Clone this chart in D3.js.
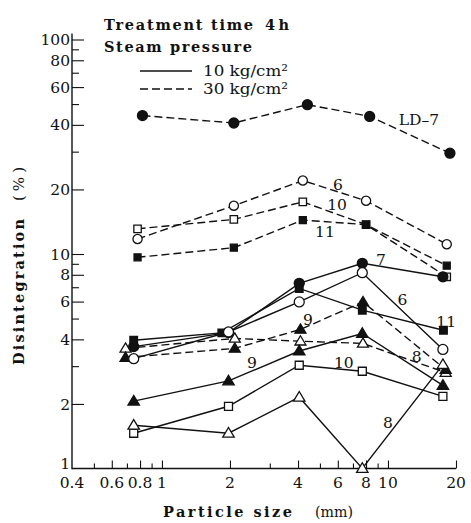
<!DOCTYPE html>
<html>
<head>
<meta charset="utf-8">
<script src="https://cdn.jsdelivr.net/npm/d3@7"></script>
<style>
  body { margin: 0; background: #fff; }
  svg text { font-family: "DejaVu Serif", "Liberation Serif", serif; fill: #111; }
</style>
</head>
<body>
<div id="chart"></div>
<script>
'use strict'

// particle size (mm) where each group of points sits
const sizes10 = [0.75, 1.97, 4.05, 7.7, 17.5]
const sizes10b = [0.75, 1.84, 4.05, 7.7, 17.6]
const sizes30 = [0.78, 2.08, 4.2, 8.0, 18.2]
const sizes30low = [0.69, 2.1, 4.1, 7.75, 18]
const sizesLD7 = [0.82, 2.08, 4.4, 8.3, 18.8]

// disintegration (%), steam 10 kg/cm2 (solid)
const s6 = [3.25, 4.33, 5.98, 8.18, 3.59]
const s7 = [3.7, 4.3, 7.3, 9.05, 7.83]
const s8 = [1.59, 1.46, 2.15, 1.0, 3.05]
const s9 = [2.06, 2.56, 3.53, 4.26, 2.44]
const s10 = [1.46, 1.95, 3.03, 2.84, 2.17]
const s11 = [3.96, 4.29, 6.91, 5.47, 4.41]

// disintegration (%), steam 30 kg/cm2 (dashed)
const dLD7 = [44.2, 40.8, 49.7, 43.8, 29.5]
const d6 = [11.75, 16.8, 22.0, 17.7, 11.1]
const d10 = [13.1, 14.5, 17.5, 13.7, 7.83]
const d11 = [9.65, 10.7, 14.4, 13.7, 8.82]
const d8 = [3.63, 4.04, 3.92, 3.83, 2.8]
const d9 = [3.29, 3.63, 4.45, 5.98, 2.89]

// ticks
const xTicks = [0.5, 0.6, 0.7, 0.8, 0.9, 1, 2, 3, 4, 5, 6, 7, 8, 9, 10, 20]
const xLabels = [0.4, 0.6, 0.8, 1, 2, 4, 6, 8, 10, 20]
const yTicks = [2, 3, 4, 5, 6, 7, 8, 9, 10, 20, 30, 40, 50, 60, 70, 80, 90, 100]
const yLabels = [1, 2, 4, 6, 8, 10, 20, 40, 60, 80, 100]

// curve labels: text, particle size, disintegration (baseline)
const curveLabels = [
  ['LD\u20137', 13.7, 40.1],
  ['6', 6.0, 19.9],
  ['10', 5.95, 16.1],
  ['11', 5.26, 12.0],
  ['7', 9.31, 8.89],
  ['6', 11.6, 5.78],
  ['11', 18.1, 4.56],
  ['9', 4.43, 4.66],
  ['8', 13.4, 3.13],
  ['10', 6.38, 2.93],
  ['9', 2.50, 2.93],
  ['8', 10.0, 1.54]
]

const series = [
  {xs: sizes30, ys: d6, dash: true, marker: 'circle', filled: false, r: 4.6},
  {xs: sizes30, ys: d10, dash: true, marker: 'square', filled: false, r: 3.7},
  {xs: sizes30, ys: d11, dash: true, marker: 'square', filled: true, r: 3.5},
  {xs: sizesLD7, ys: dLD7, dash: true, marker: 'circle', filled: true, r: 5},
  {xs: sizes30low, ys: d8, dash: true, marker: 'triangle', filled: false, r: 5},
  {xs: sizes30low, ys: d9, dash: true, marker: 'triangle', filled: true, r: 5},
  {xs: sizes10, ys: s7, dash: false, marker: 'circle', filled: true, r: 5},
  {xs: sizes10b, ys: s11, dash: false, marker: 'square', filled: true, r: 3.8},
  {xs: sizes10, ys: s6, dash: false, marker: 'circle', filled: false, r: 5},
  {xs: sizes10, ys: s9, dash: false, marker: 'triangle', filled: true, r: 5.2},
  {xs: sizes10, ys: s10, dash: false, marker: 'square', filled: false, r: 4},
  {xs: sizes10, ys: s8, dash: false, marker: 'triangle', filled: false, r: 5.2}
]

////////////////////////////////////
//////////// svg setup /////////////
////////////////////////////////////

const svgWidth = 471
const svgHeight = 523
const ink = '#111'

const svg = d3.select('#chart').append('svg')
  .attr('width', svgWidth)
  .attr('height', svgHeight)

////////////////////////////////////
//////////////scales////////////////
////////////////////////////////////

const x = d3.scaleLog().domain([0.4, 20]).range([72, 456])
const y = d3.scaleLog().domain([1, 100]).range([468.5, 39.5])

// x axis: long ticks on labelled values, short ticks elsewhere
const xg = svg.append('g').attr('transform', `translate(0,${y(1)})`)
xg.append('g')
  .call(d3.axisBottom(x).tickValues(xTicks.filter(d => !xLabels.includes(d)))
    .tickSizeInner(-5).tickSizeOuter(0).tickFormat(''))
  .call(g => g.select('.domain').remove())
xg.append('g')
  .call(d3.axisBottom(x).tickValues(xLabels.filter(d => d != 0.4))
    .tickSizeInner(-8).tickSizeOuter(0).tickFormat(''))
  .call(g => g.select('.domain').remove())
xg.selectAll('.tick text').remove()
xg.selectAll('.x-lab')
  .data(xLabels)
  .enter().append('text')
  .attr('class', 'x-lab')
  .attr('x', d => x(d))
  .attr('y', 19.5)
  .attr('text-anchor', 'middle')
  .style('font-size', '15.5px')
  .text(d => d)
xg.append('line')
  .attr('x1', x(0.4)).attr('x2', x(20))
  .attr('stroke', ink).attr('stroke-width', 1.3)

// y axis
const yg = svg.append('g').attr('transform', `translate(${x(0.4)},0)`)
yg.append('g')
  .call(d3.axisLeft(y).tickValues(yTicks.filter(d => !yLabels.includes(d)))
    .tickSizeInner(-7).tickSizeOuter(0).tickFormat(''))
  .call(g => g.select('.domain').remove())
yg.append('g')
  .call(d3.axisLeft(y).tickValues(yLabels.filter(d => d != 1))
    .tickSizeInner(-12).tickSizeOuter(0).tickFormat(''))
  .call(g => g.select('.domain').remove())
yg.selectAll('.y-lab')
  .data(yLabels)
  .enter().append('text')
  .attr('class', 'y-lab')
  .attr('x', -2)
  .attr('y', d => d == 1 ? y(d) - 5 : y(d))
  .attr('dy', '0.36em')
  .attr('text-anchor', 'end')
  .style('font-size', '15.5px')
  .text(d => d)
yg.append('line')
  .attr('y1', y(1) + 0.7).attr('y2', y(100) - 6)
  .attr('stroke', ink).attr('stroke-width', 1.4)

svg.selectAll('.tick line').attr('stroke', ink).attr('stroke-width', 1.1)

// axis titles (letter-spaced like the original typesetting)
svg.append('text')
  .attr('x', 163).attr('y', 517)
  .attr('textLength', 129).attr('lengthAdjust', 'spacing')
  .style('font-size', '14.5px').style('font-weight', 'bold')
  .text('Particle size')
svg.append('text')
  .attr('x', 315).attr('y', 517)
  .attr('textLength', 38).attr('lengthAdjust', 'spacingAndGlyphs')
  .style('font-size', '15px')
  .text('(mm)')

svg.append('g')
  .attr('transform', 'translate(24,365) rotate(-90)')
  .call(g => {
    g.append('text').attr('x', 0).attr('y', 0)
      .attr('textLength', 146).attr('lengthAdjust', 'spacing')
      .style('font-size', '14.5px').style('font-weight', 'bold')
      .text('Disintegration')
    g.append('text').attr('x', 164).attr('y', 0)
      .attr('textLength', 34).attr('lengthAdjust', 'spacing')
      .style('font-size', '15px')
      .text('(%)')
  })

////////////////////////////////////
////////////// legend //////////////
////////////////////////////////////

svg.append('text')
  .attr('x', 104).attr('y', 30)
  .attr('textLength', 149).attr('lengthAdjust', 'spacing')
  .style('font-size', '14.5px').style('font-weight', 'bold')
  .text('Treatment time')
svg.append('text')
  .attr('x', 265).attr('y', 30)
  .attr('textLength', 24).attr('lengthAdjust', 'spacing')
  .style('font-size', '14.5px').style('font-weight', 'bold')
  .text('4h')
svg.append('text')
  .attr('x', 104).attr('y', 52)
  .attr('textLength', 148).attr('lengthAdjust', 'spacing')
  .style('font-size', '14.5px').style('font-weight', 'bold')
  .text('Steam pressure')

const legendRows = [
  {label: '10 kg/cm\u00b2', dash: false, y: 71},
  {label: '30 kg/cm\u00b2', dash: true, y: 89}
]
legendRows.forEach(r => {
  svg.append('line')
    .attr('x1', 140).attr('x2', 192)
    .attr('y1', r.y).attr('y2', r.y)
    .attr('stroke', ink).attr('stroke-width', 1.3)
    .attr('stroke-dasharray', r.dash ? '8,4' : null)
  svg.append('text')
    .attr('x', 203).attr('y', r.y + 5)
    .attr('textLength', 85).attr('lengthAdjust', 'spacingAndGlyphs')
    .style('font-size', '15px')
    .text(r.label)
})

////////////////////////////////////
////////////// curves //////////////
////////////////////////////////////

const line = xs => d3.line()
  .x((d, i) => x(xs[i]))
  .y(d => y(d))

const plot = svg.append('g')

series.forEach(s => {
  plot.append('path')
    .datum(s.ys)
    .attr('d', line(s.xs))
    .attr('fill', 'none')
    .attr('stroke', ink)
    .attr('stroke-width', 1.4)
    .attr('stroke-dasharray', s.dash ? '8,4' : null)
})

function markerPath(type, r) {
  if (type == 'square') return `M${-r},${-r}h${2 * r}v${2 * r}h${-2 * r}Z`
  if (type == 'triangle') return `M0,${-r * 1.1}L${r * 1.1},${r * 0.75}L${-r * 1.1},${r * 0.75}Z`
  return d3.arc()({innerRadius: 0, outerRadius: r, startAngle: 0, endAngle: 2 * Math.PI})
}

series.forEach(s => {
  plot.selectAll(null)
    .data(s.ys)
    .enter().append('path')
    .attr('transform', (d, i) => `translate(${x(s.xs[i])},${y(d)})`)
    .attr('d', markerPath(s.marker, s.r))
    .attr('fill', s.filled ? ink : '#fff')
    .attr('stroke', ink)
    .attr('stroke-width', 1.3)
})

plot.selectAll('.curve-label')
  .data(curveLabels)
  .enter().append('text')
  .attr('class', 'curve-label')
  .attr('x', d => x(d[1]))
  .attr('y', d => y(d[2]))
  .attr('text-anchor', 'middle')
  .style('font-size', '15.5px')
  .text(d => d[0])
</script>
</body>
</html>
